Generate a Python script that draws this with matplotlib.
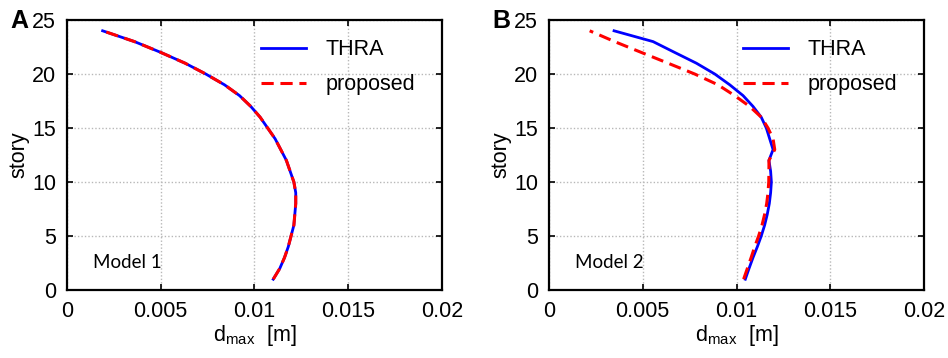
import matplotlib
matplotlib.use("Agg")
import matplotlib.pyplot as plt
import numpy as np

plt.rcParams['font.family'] = ['Liberation Sans', 'DejaVu Sans']
plt.rcParams['mathtext.fontset'] = 'custom'
plt.rcParams['mathtext.rm'] = 'Liberation Sans'

stories = list(range(1, 25))

# Model 1: peak displacement per story
m1_thra = [0.0110, 0.01135, 0.0116, 0.0118, 0.01195, 0.0121, 0.01215, 0.0122,
           0.0122, 0.0121, 0.0119, 0.0117, 0.0114, 0.0111, 0.0107, 0.0103,
           0.0098, 0.0092, 0.0084, 0.0074, 0.0063, 0.0050, 0.0036, 0.0019]
m1_prop = [0.0110, 0.01135, 0.0116, 0.0118, 0.01195, 0.0121, 0.01215, 0.0122,
           0.0122, 0.0121, 0.0119, 0.0117, 0.0114, 0.0111, 0.0107, 0.0103,
           0.0098, 0.0092, 0.0084, 0.0074, 0.0063, 0.0050, 0.0036, 0.0019]

# Model 2: peak displacement per story
m2_thra = [0.01047, 0.01067, 0.01088, 0.01111, 0.01132, 0.0115, 0.01164, 0.01175,
           0.01182, 0.01186, 0.01182, 0.01173, 0.01195, 0.01177, 0.01159, 0.01132,
           0.01088, 0.01035, 0.00964, 0.00884, 0.00786, 0.0067, 0.00555, 0.00347]
m2_prop = [0.01038, 0.01058, 0.01078, 0.01097, 0.01118, 0.01136, 0.0115, 0.01161,
           0.01168, 0.01172, 0.01173, 0.01173, 0.01204, 0.01195, 0.01168, 0.01132,
           0.0107, 0.0099, 0.00901, 0.00777, 0.00635, 0.00492, 0.0035, 0.00217]

xticks = [0, 0.005, 0.01, 0.015, 0.02]
xticklabels = ['0', '0.005', '0.01', '0.015', '0.02']
yticks = [0, 5, 10, 15, 20, 25]

panels = [('A', 'Model 1', m1_thra, m1_prop),
          ('B', 'Model 2', m2_thra, m2_prop)]

fig = plt.figure(figsize=(9.48, 3.58), dpi=100)
lefts = [67 / 948, 549 / 948]
w = 375 / 948
bottom = 1 - 290 / 358
h = 270 / 358

for left, (tag, model, thra, prop) in zip(lefts, panels):
    ax = fig.add_axes([left, bottom, w, h])
    ax.plot(thra, stories, color='#0000ff', lw=2.0, label='THRA', zorder=3)
    ax.plot(prop, stories, color='#ff0000', lw=2.2, dashes=(4, 2.2),
            label='proposed', zorder=4)
    ax.set_xlim(0, 0.02)
    ax.set_ylim(0, 25)
    ax.set_xticks(xticks)
    ax.set_xticklabels(xticklabels)
    ax.set_yticks(yticks)
    ax.grid(True, color='#b8b8b8', linestyle=(0, (1, 1.5)), lw=1.0)
    ax.tick_params(direction='in', top=True, right=True, length=4, width=1.2,
                   labelsize=15.5, pad=8)
    for sp in ax.spines.values():
        sp.set_linewidth(1.6)
    ax.set_ylabel('story', fontsize=15.5, labelpad=2)
    ax.set_xlabel(r'$\mathregular{d_{max}}$  [m]', fontsize=15.5, labelpad=1)
    ax.text(0.0014, 2.5, model, fontsize=13.5, family='Lato', va='center',
            ha='left')
    ax.legend(loc='upper right', frameon=False, fontsize=15.5,
              handlelength=2.1, handletextpad=0.9, labelspacing=0.65,
              bbox_to_anchor=(0.98, 1.0))
    fig.text(left - 57 / 948, 1 - 21 / 358, tag, fontsize=18, fontweight='bold',
             va='center', ha='left')

fig.savefig('out.png', dpi=100)
